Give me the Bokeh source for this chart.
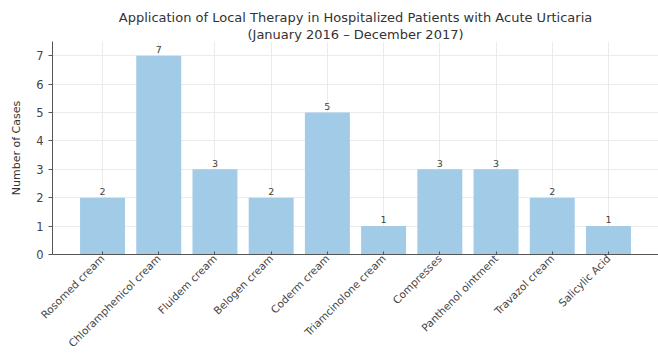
import math
from bokeh.plotting import figure
from bokeh.models import ColumnDataSource, Range1d, FactorRange, Title
from bokeh.embed import file_html
from bokeh.resources import INLINE

categories = ["Rosomed cream", "Chloramphenicol cream", "Fluidem cream", "Belogen cream",
              "Coderm cream", "Triamcinolone cream", "Compresses", "Panthenol ointment",
              "Travazol cream", "Salicylic Acid"]
cases = [2, 7, 3, 2, 5, 1, 3, 3, 2, 1]
labels = [str(v) for v in cases]

FONT = "DejaVu Sans"
src = ColumnDataSource(dict(cat=categories, val=cases, lab=labels,
                            ly=[v + 0.22 for v in cases]))

p = figure(width=658, height=356, x_range=FactorRange(*categories, range_padding=0.078),
           y_range=Range1d(0, 7.5), output_backend="svg", toolbar_location=None,
           min_border_left=52, min_border_right=0, min_border_top=41, min_border_bottom=91)

p.vbar(x="cat", top="val", width=0.8, source=src, fill_color="#a2cbe8",
       line_color=None)
p.text(x="cat", y="ly", text="lab", source=src, text_align="center",
       text_baseline="alphabetic", text_font_size="9.5px", text_color="#444444",
       text_font={"value": FONT})

p.title.text = "Application of Local Therapy in Hospitalized Patients with Acute Urticaria"
p.title.align = "center"
p.title.text_font = FONT
p.title.text_font_size = "13px"
p.title.text_font_style = "normal"
p.title.text_color = "#333333"
p.title.standoff = 0
p.add_layout(Title(text="(January 2016 \u2013 December 2017)", align="center",
                   text_font=FONT, text_font_size="13px", text_font_style="normal",
                   text_color="#333333", standoff=0), "above")

p.outline_line_color = None
p.xgrid.grid_line_color = "#e6e6e6"
p.ygrid.grid_line_color = "#e6e6e6"
p.grid.grid_line_width = 0.8

for ax in (p.xaxis, p.yaxis):
    ax.axis_line_color = "#555555"
    ax.major_tick_line_color = "#555555"
    ax.major_label_text_font = FONT
    ax.major_label_text_color = "#444444"
    ax.minor_tick_line_color = None

p.xaxis.major_label_orientation = math.pi / 4
p.xaxis.major_label_text_font_size = "10.5px"
p.xaxis.major_tick_in = 3
p.xaxis.major_tick_out = 0
p.xaxis.major_label_standoff = 2

p.yaxis.major_label_text_font_size = "11.5px"
p.yaxis.major_tick_in = 0
p.yaxis.major_tick_out = 4
p.yaxis.ticker = list(range(0, 8))
p.yaxis.axis_label = "Number of Cases"
p.yaxis.axis_label_text_font = FONT
p.yaxis.axis_label_text_font_size = "11px"
p.yaxis.axis_label_text_font_style = "normal"
p.yaxis.axis_label_text_color = "#333333"
p.yaxis.axis_label_standoff = 10

open("out.html", "w").write(file_html(p, INLINE))
